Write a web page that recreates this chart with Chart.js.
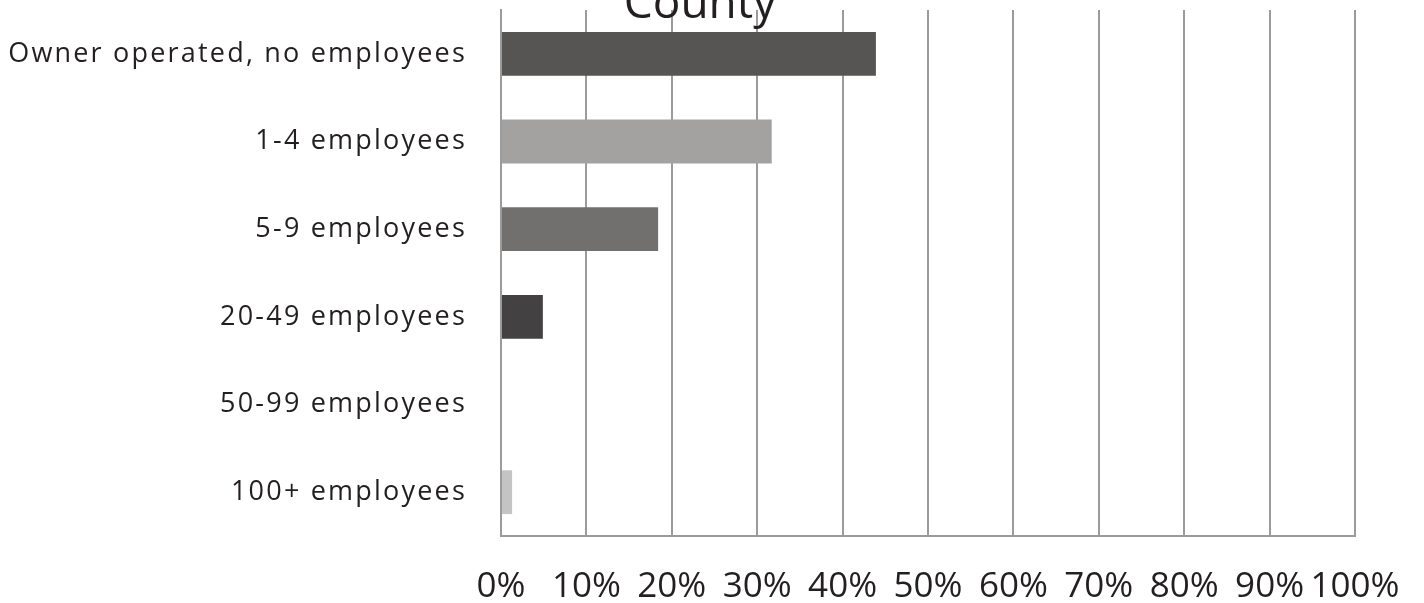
<!DOCTYPE html>
<html>
<head>
<meta charset="utf-8">
<script src="https://cdn.jsdelivr.net/npm/chart.js@4.4.0/dist/chart.umd.min.js"></script>
<style>
  html, body { margin: 0; padding: 0; background: #fff; }
  #wrap { position: relative; width: 1424px; height: 603px; overflow: hidden; }
</style>
</head>
<body>
<div id="wrap"><canvas id="myChart" width="1424" height="603"></canvas></div>
<script>
// data
const categories = [
  "Owner operated, no employees",
  "1-4 employees",
  "5-9 employees",
  "20-49 employees",
  "50-99 employees",
  "100+ employees"
];
const shares = [43.9, 31.7, 18.4, 4.9, 0, 1.3];
const barColors = ["#575553", "#a3a2a0", "#72706e", "#434142", "#8a8886", "#c4c4c4"];
const chartTitle = "County";

const textColor = "#231f20";
const gridColor = "#9b9b9b";
const fontFamily = "'Open Sans', 'Noto Sans', sans-serif";

// title is drawn by hand so it can sit half off the top
const cutTitle = {
  id: 'cutTitle',
  afterDraw(chart) {
    const ctx = chart.ctx;
    ctx.save();
    ctx.letterSpacing = "0px";
    ctx.font = "46px " + fontFamily;
    ctx.fillStyle = textColor;
    ctx.textAlign = "center";
    ctx.textBaseline = "alphabetic";
    ctx.fillText(chartTitle, 700, chart.chartArea.top + 8);
    ctx.restore();
  }
};

// the category labels are set a bit wide; y tick labels are drawn in a later layer (ticks.z: 1)
const spacedLabels = {
  id: 'spacedLabels',
  afterDatasetsDraw(chart) { chart.ctx.letterSpacing = "2.2px"; },
  afterDraw(chart) { chart.ctx.letterSpacing = "0px"; }
};

new Chart("myChart", {
  type: "bar",
  data: {
    labels: categories,
    datasets: [{
      data: shares,
      backgroundColor: barColors,
      borderWidth: 0,
      barPercentage: 0.5,
      categoryPercentage: 1.0
    }]
  },
  plugins: [spacedLabels, cutTitle],
  options: {
    indexAxis: "y",
    responsive: false,
    animation: false,
    layout: { padding: { top: 10, right: 69, left: 0, bottom: 0 } },
    plugins: {
      legend: { display: false },
      tooltip: { enabled: false },
      title: { display: false }
    },
    scales: {
      x: {
        min: 0,
        max: 100,
        ticks: {
          stepSize: 10,
          autoSkip: false,
          callback: v => v + "%",
          color: textColor,
          font: { family: fontFamily, size: 35 },
          padding: 30,
          maxRotation: 0
        },
        grid: { color: gridColor, lineWidth: 2, drawTicks: false },
        border: { display: true, color: gridColor, width: 2 },
        afterFit(scale) {
          scale.height = 67;
          scale.paddingLeft = 0;
          scale.paddingRight = 0;
        }
      },
      y: {
        ticks: {
          z: 1,
          color: textColor,
          font: { family: fontFamily, size: 27 },
          padding: 34
        },
        grid: { display: false, drawTicks: false },
        border: { display: true, color: gridColor, width: 2 },
        afterFit(scale) {
          scale.width = 501;
          scale.paddingTop = 0;
          scale.paddingBottom = 0;
        }
      }
    }
  }
});
</script>
</body>
</html>
